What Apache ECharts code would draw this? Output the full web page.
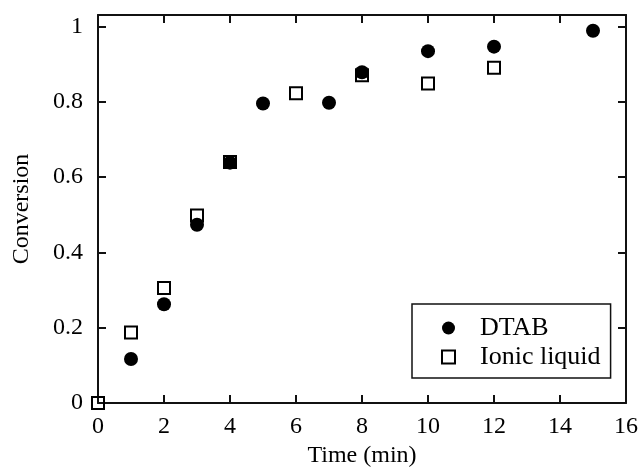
<!DOCTYPE html>
<html lang="en">
<head>
    <meta charset="UTF-8">
    <title>Conversion</title>
    <script type="text/javascript" src="https://cdn.jsdelivr.net/npm/echarts@6/dist/echarts.min.js"></script>
    <style>
        html, body { margin: 0; padding: 0; background: #fff; }
        #charts { width: 641px; height: 476px; }
    </style>
</head>
<body>
<div id="charts"></div>
<script>
    // data
    var dtabTime = [1, 2, 3, 4, 5, 7, 8, 10, 12, 15]
    var dtabConv = [0.117, 0.262, 0.473, 0.638, 0.795, 0.797, 0.878, 0.934, 0.946, 0.988]
    var ionicTime = [0, 1, 2, 3, 4, 6, 8, 10, 12]
    var ionicConv = [0, 0.187, 0.305, 0.498, 0.640, 0.822, 0.870, 0.848, 0.890]
    var xTicks = [0, 2, 4, 6, 8, 10, 12, 14, 16]
    var yTicks = [0, 0.2, 0.4, 0.6, 0.8, 1]

    function pairs(xs, ys) {
        return xs.map(function (x, i) { return [x, ys[i]] })
    }

    var font = '"Liberation Serif", "Times New Roman", serif'
    var ink = '#000'

    var axisLine = {show: true, onZero: false, lineStyle: {color: '#111', width: 2}}
    var tickIn = {show: true, inside: true, length: 8, lineStyle: {color: '#111', width: 2}}

    var chart = echarts.init(document.getElementById("charts"), null, {renderer: 'canvas'})
    chart.setOption({
        animation: false,
        backgroundColor: '#fff',
        grid: {left: 98, right: 14, top: 15, bottom: 73},
        xAxis: [{
            type: 'value', min: 0, max: 16, interval: 2,
            name: 'Time (min)', nameLocation: 'middle', nameGap: 40,
            nameTextStyle: {fontFamily: font, fontSize: 24, color: ink},
            axisLine: axisLine, axisTick: tickIn, splitLine: {show: false},
            axisLabel: {fontFamily: font, fontSize: 24, color: ink, margin: 12}
        }, {
            type: 'value', min: 0, max: 16, interval: 2, position: 'top',
            axisLine: axisLine, axisTick: tickIn, splitLine: {show: false},
            axisLabel: {show: false}
        }],
        yAxis: [{
            type: 'value', min: 0, max: 1.03, interval: 0.2,
            name: 'Conversion', nameLocation: 'middle', nameGap: 64, nameRotate: 90,
            nameTextStyle: {fontFamily: font, fontSize: 24, color: ink},
            axisLine: axisLine, axisTick: tickIn, splitLine: {show: false},
            axisLabel: {
                fontFamily: font, fontSize: 24, color: ink, margin: 15, showMaxLabel: false,
                formatter: function (v) { return yTicks.indexOf(+v.toFixed(2)) >= 0 ? String(+v.toFixed(2)) : '' }
            }
        }, {
            type: 'value', min: 0, max: 1.03, interval: 0.2, position: 'right',
            axisLine: axisLine, axisTick: tickIn, splitLine: {show: false},
            axisLabel: {show: false}
        }],
        legend: {
            orient: 'vertical', left: 412, top: 304,
            borderColor: '#111', borderWidth: 1.5,
            padding: [11, 10, 8, 29], itemGap: 3,
            itemWidth: 13, itemHeight: 13,
            textStyle: {fontFamily: font, fontSize: 26, color: ink, padding: [0, 0, 0, 20], lineHeight: 26},
            data: ['DTAB', 'Ionic liquid']
        },
        series: [{
            name: 'DTAB', type: 'scatter', symbol: 'circle', symbolSize: 14,
            itemStyle: {color: ink, opacity: 1},
            data: pairs(dtabTime, dtabConv)
        }, {
            name: 'Ionic liquid', type: 'scatter', symbol: 'rect', symbolSize: 12, clip: false,
            itemStyle: {color: 'rgba(0,0,0,0)', borderColor: ink, borderWidth: 2, opacity: 1},
            data: pairs(ionicTime, ionicConv)
        }]
    })
</script>
</body>
</html>
